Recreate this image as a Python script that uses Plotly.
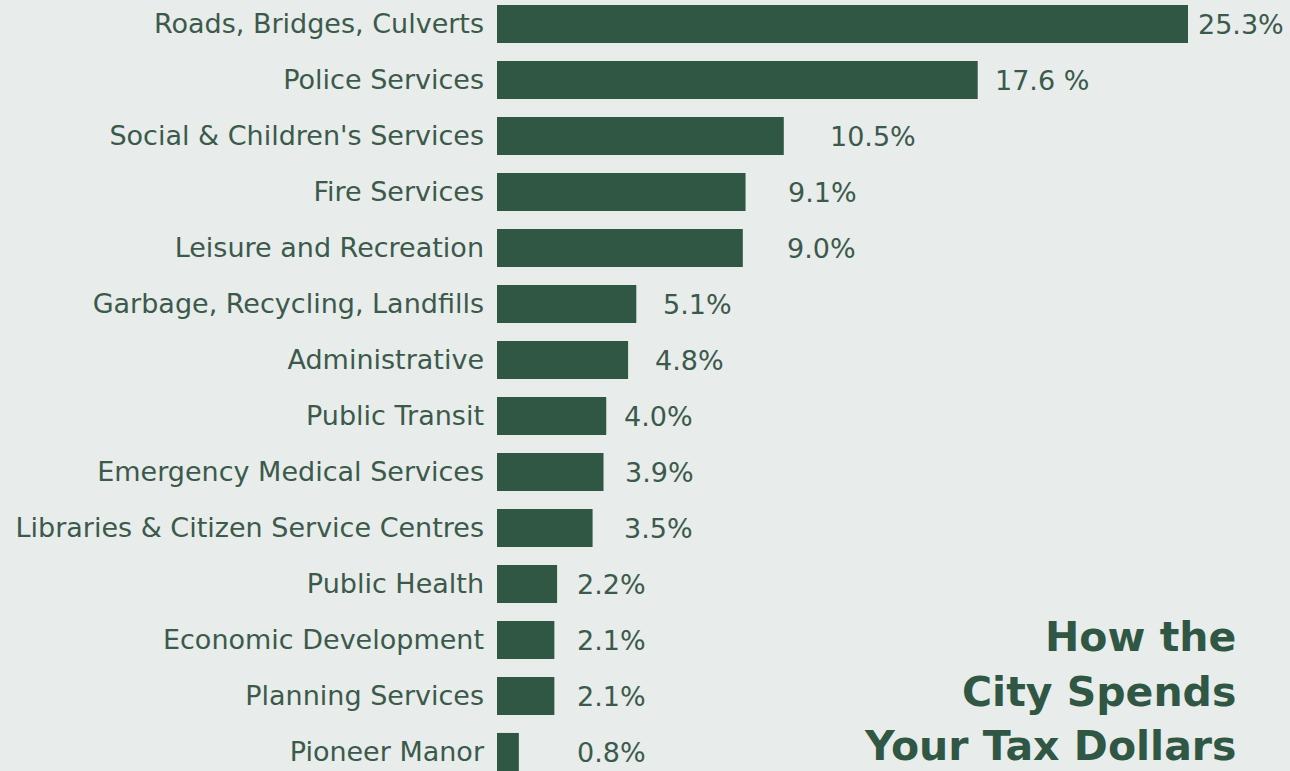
import plotly.graph_objects as go

categories = [
    "Roads, Bridges, Culverts",
    "Police Services",
    "Social & Children's Services",
    "Fire Services",
    "Leisure and Recreation",
    "Garbage, Recycling, Landfills",
    "Administrative",
    "Public Transit",
    "Emergency Medical Services",
    "Libraries & Citizen Service Centres",
    "Public Health",
    "Economic Development",
    "Planning Services",
    "Pioneer Manor",
]
values = [25.3, 17.6, 10.5, 9.1, 9.0, 5.1, 4.8, 4.0, 3.9, 3.5, 2.2, 2.1, 2.1, 0.8]
value_labels = ["25.3%", "17.6 %", "10.5%", "9.1%", "9.0%", "5.1%", "4.8%",
                "4.0%", "3.9%", "3.5%", "2.2%", "2.1%", "2.1%", "0.8%"]
label_shift_px = [8, 15, 44, 40, 42, 25, 25, 16, 19, 29, 18, 21, 21, 56]
title_lines = ["How the", "City Spends", "Your Tax Dollars"]

BG = "#e8ecea"
BAR = "#2f5744"
TXT = "#3b5a4b"
FONT = "DejaVu Sans"

fig = go.Figure()
fig.add_trace(go.Bar(
    x=values, y=categories, orientation="h",
    marker=dict(color=BAR, line=dict(width=0)),
    hoverinfo="skip",
))

for cat, v, lab, sh in zip(categories, values, value_labels, label_shift_px):
    fig.add_annotation(x=v, y=cat, text=lab, showarrow=False, xanchor="left",
                       yanchor="middle", xshift=sh,
                       font=dict(family=FONT, size=27, color=TXT))

title_y = [637, 692, 746]
for line, py in zip(title_lines, title_y):
    fig.add_annotation(xref="paper", yref="paper", x=(1238 - 497) / (1290 - 497),
                       y=1 - py / 771, text=f"<b>{line}</b>", showarrow=False,
                       xanchor="right", yanchor="middle",
                       font=dict(family=FONT, size=41, color=BAR))

fig.update_layout(
    width=1290, height=771,
    margin=dict(l=497, r=0, t=0, b=0),
    paper_bgcolor=BG, plot_bgcolor=BG,
    bargap=0.32, showlegend=False,
    xaxis=dict(range=[0, (1290 - 497) / ((1188 - 497) / 25.3)], visible=False,
               fixedrange=True),
    yaxis=dict(range=[-0.5 + 4 / 56 + 771 / 56, -0.5 + 4 / 56], showgrid=False,
               zeroline=False, showline=False, ticks="", ticklabelstandoff=12,
               tickfont=dict(family=FONT, size=27, color=TXT), fixedrange=True),
)

fig.write_html(
    "out.html",
    config={"displayModeBar": False},
    post_script="document.body.style.margin='0';document.body.style.background='#e8ecea';",
)
